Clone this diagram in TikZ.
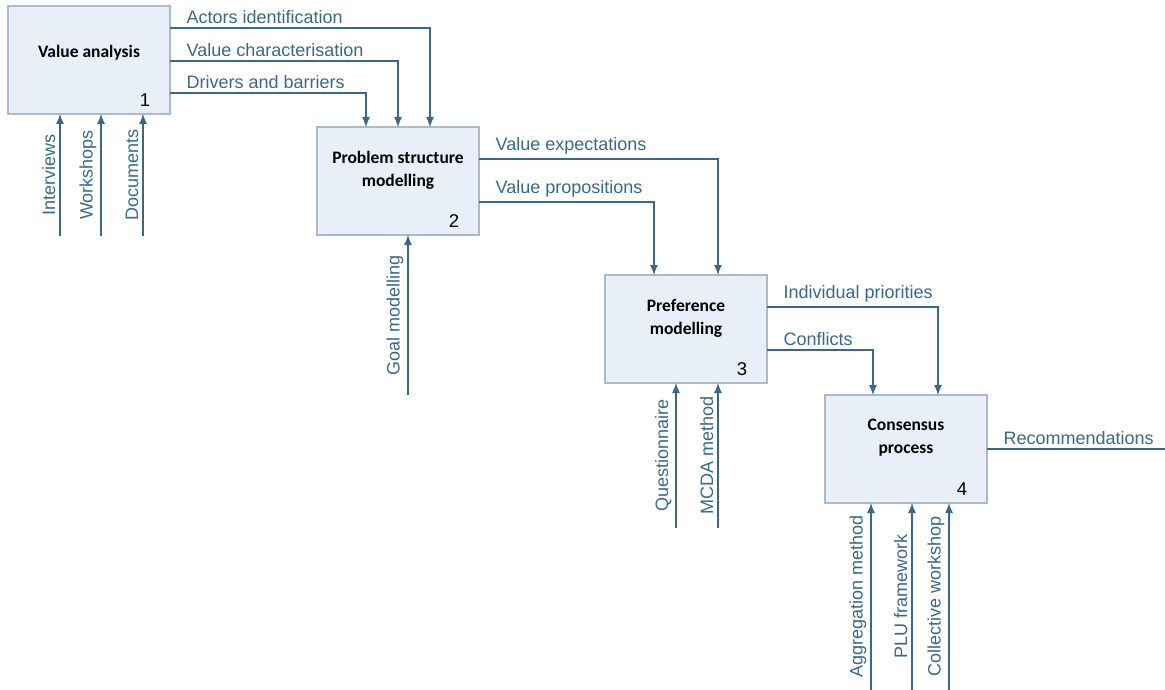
\documentclass[tikz,border=0pt]{standalone}
\usepackage{fontspec}
\setmainfont{Liberation Sans}
\newfontfamily\titlefont{Carlito}
\usetikzlibrary{positioning, arrows.meta}

\definecolor{flowblue}{RGB}{55,105,140}
\definecolor{boxfill}{RGB}{233,239,248}
\definecolor{boxline}{RGB}{170,185,205}

\begin{document}
\begin{tikzpicture}[
            x=1pt, y=-1pt,
            procbox/.style = {rectangle, draw=boxline, fill=boxfill, line width=1.2pt, outer sep=0pt,
                    minimum width=162pt, minimum height=108pt, inner sep=0pt},
            boxtitle/.style = {align=center, text=black, yshift=11pt,
                    font=\titlefont\bfseries\fontsize{17.5}{23}\selectfont},
            boxnum/.style = {anchor=center, xshift=-25pt, yshift=14pt, font=\fontsize{18.5}{20}\selectfont},
            flow/.style = {draw=flowblue, line width=1.2pt, -{Latex[length=10pt, width=8pt]}},
            outlabel/.style = {anchor=south west, xshift=12pt, inner sep=4pt, text=flowblue,
                    font=\fontsize{18}{20}\selectfont},
            inlabel/.style = {midway, sloped, above, inner sep=4pt, text=flowblue,
                    font=\fontsize{18}{20}\selectfont}
        ]
        \useasboundingbox (0,0) rectangle (1165,690);

        % the four process boxes
        \node (b1) [procbox, anchor=north west, label={[boxtitle, yshift=-4pt]center:Value analysis},
                    label={[boxnum]south east:1}] at (8,6) {};
        \node (b2) [procbox, below right = 13pt and 147pt of b1,
                    label={[boxtitle]center:Problem structure\\modelling}, label={[boxnum]south east:2}] {};
        \node (b3) [procbox, below right = 40pt and 126pt of b2,
                    label={[boxtitle]center:Preference\\modelling}, label={[boxnum]south east:3}] {};
        \node (b4) [procbox, below right = 12pt and 58pt of b3,
                    label={[boxtitle]center:Consensus\\process}, label={[boxnum]south east:4}] {};

        % free ends of the inputs and of the output
        \coordinate (interviews) at ([xshift=-29pt, yshift=-122pt]b1.south);
        \coordinate (workshops)  at ([xshift=12pt, yshift=-122pt]b1.south);
        \coordinate (documents)  at ([xshift=54pt, yshift=-122pt]b1.south);
        \coordinate (goalmod)    at ([xshift=10pt, yshift=-160pt]b2.south);
        \coordinate (questions)  at ([xshift=-10pt, yshift=-145pt]b3.south);
        \coordinate (mcda)       at ([xshift=32pt, yshift=-145pt]b3.south);
        \coordinate (aggreg)     at ([xshift=-35pt, yshift=-187pt]b4.south);
        \coordinate (plu)        at ([xshift=6pt, yshift=-187pt]b4.south);
        \coordinate (collective) at ([xshift=43pt, yshift=-187pt]b4.south);
        \coordinate (recend)     at ([xshift=179pt]b4.east);

        % outputs
        \draw[flow] ([yshift=-22pt]b1.north east) node[outlabel] {Actors identification} -| ([xshift=32pt]b2.north);
        \draw[flow] ([yshift=-55pt]b1.north east) node[outlabel] {Value characterisation} -| (b2.north);
        \draw[flow] ([yshift=-87pt]b1.north east) node[outlabel] {Drivers and barriers} -| ([xshift=-32pt]b2.north);
        \draw[flow] ([yshift=-32pt]b2.north east) node[outlabel] {Value expectations} -| ([xshift=32pt]b3.north);
        \draw[flow] ([yshift=-75pt]b2.north east) node[outlabel] {Value propositions} -| ([xshift=-32pt]b3.north);
        \draw[flow] ([yshift=-32pt]b3.north east) node[outlabel] {Individual priorities} -| ([xshift=32pt]b4.north);
        \draw[flow] ([yshift=-75pt]b3.north east) node[outlabel] {Conflicts} -| ([xshift=-33pt]b4.north);
        \draw[draw=flowblue, line width=1.2pt] (b4.east) node[outlabel] {Recommendations} -- (recend);

        % inputs
        \draw[flow] (interviews) -- (interviews |- b1.south) node[inlabel] {Interviews};
        \draw[flow] (workshops)  -- (workshops |- b1.south)  node[inlabel] {Workshops};
        \draw[flow] (documents)  -- (documents |- b1.south)  node[inlabel] {Documents};
        \draw[flow] (goalmod)    -- (goalmod |- b2.south)    node[inlabel] {Goal modelling};
        \draw[flow] (questions)  -- (questions |- b3.south)  node[inlabel] {Questionnaire};
        \draw[flow] (mcda)       -- (mcda |- b3.south)       node[inlabel] {MCDA method};
        \draw[flow] (aggreg)     -- (aggreg |- b4.south)     node[inlabel] {Aggregation method};
        \draw[flow] (plu)        -- (plu |- b4.south)        node[inlabel] {PLU framework};
        \draw[flow] (collective) -- (collective |- b4.south) node[inlabel] {Collective workshop};
    \end{tikzpicture}
\end{document}
